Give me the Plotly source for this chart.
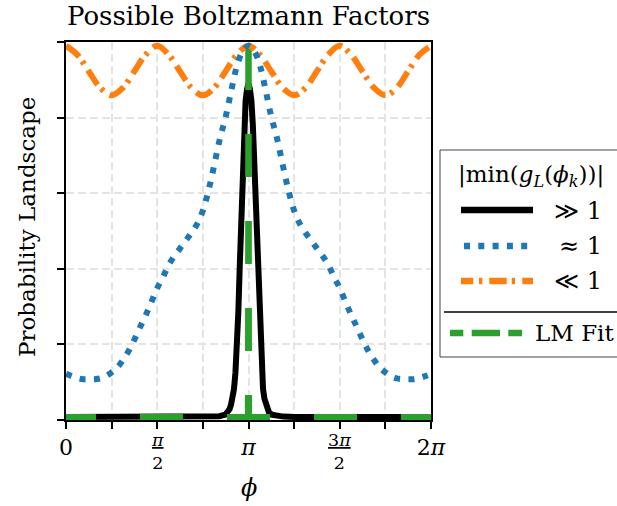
import plotly.graph_objects as go

# ---------------- data ----------------
phi_blue = [0.0, 0.0982, 0.1963, 0.2945, 0.3927, 0.4909, 0.5890, 0.6872, 0.7854, 0.8836,
            0.9817, 1.0799, 1.1781, 1.2763, 1.3744, 1.4726, 1.5708, 1.6690, 1.7671, 1.8653,
            1.9635, 2.0617, 2.1598, 2.2580, 2.3562, 2.4544, 2.5525, 2.6507, 2.7489, 2.8471,
            2.9452, 3.0434, 3.1416, 3.2398, 3.3379, 3.4361, 3.5343, 3.6325, 3.7306, 3.8288,
            3.9270, 4.0252, 4.1233, 4.2215, 4.3197, 4.4179, 4.5160, 4.6142, 4.7124, 4.8106,
            4.9087, 5.0069, 5.1051, 5.2033, 5.3014, 5.3996, 5.4978, 5.5960, 5.6941, 5.7923,
            5.8905, 5.9887, 6.0868, 6.1850, 6.2832]
blue_vals = [0.122, 0.116, 0.111, 0.108, 0.108, 0.108, 0.110, 0.116, 0.126, 0.139,
             0.159, 0.183, 0.213, 0.246, 0.278, 0.313, 0.349, 0.378, 0.410, 0.434,
             0.454, 0.475, 0.495, 0.519, 0.554, 0.608, 0.675, 0.745, 0.802, 0.873,
             0.938, 0.976, 0.990, 0.976, 0.938, 0.873, 0.802, 0.745, 0.675, 0.608,
             0.554, 0.519, 0.495, 0.475, 0.454, 0.434, 0.410, 0.378, 0.349, 0.313,
             0.278, 0.246, 0.213, 0.183, 0.159, 0.139, 0.126, 0.116, 0.110, 0.108,
             0.108, 0.108, 0.111, 0.116, 0.122]

phi_orange = [0.0, 0.1963, 0.3927, 0.5890, 0.7854, 0.9817, 1.1781, 1.3744, 1.5708, 1.7671,
              1.9635, 2.1598, 2.3562, 2.5525, 2.7489, 2.9452, 3.1416, 3.3379, 3.5343, 3.7306,
              3.9270, 4.1233, 4.3197, 4.5160, 4.7124, 4.9087, 5.1051, 5.3014, 5.4978, 5.6941,
              5.8905, 6.0868, 6.2832]
orange_vals = [0.990, 0.966, 0.922, 0.879, 0.859, 0.879, 0.923, 0.967, 0.990, 0.966,
               0.922, 0.879, 0.859, 0.879, 0.923, 0.967, 0.990, 0.966, 0.922, 0.879,
               0.859, 0.879, 0.923, 0.967, 0.990, 0.966, 0.922, 0.879, 0.859, 0.879,
               0.923, 0.967, 0.990]

phi_black = [0.0, 0.6416, 1.6416, 2.3416, 2.5416, 2.6416, 2.7416, 2.7916, 2.8166, 2.8416,
             2.8666, 2.8916, 2.9166, 2.9416, 2.9666, 2.9916, 3.0166, 3.0416, 3.0666, 3.0916,
             3.1166, 3.1416, 3.1666, 3.1916, 3.2166, 3.2416, 3.2666, 3.2916, 3.3166, 3.3416,
             3.3666, 3.3916, 3.4166, 3.4416, 3.4666, 3.4916, 3.5416, 3.6416, 3.7416, 3.9416,
             4.6416, 5.6416, 6.2832]
black_vals = [0.008, 0.008, 0.008, 0.008, 0.009, 0.010, 0.014, 0.021, 0.029, 0.041,
              0.056, 0.082, 0.125, 0.195, 0.285, 0.410, 0.540, 0.680, 0.780, 0.845,
              0.875, 0.890, 0.875, 0.845, 0.780, 0.680, 0.540, 0.410, 0.285, 0.195,
              0.125, 0.082, 0.056, 0.041, 0.029, 0.021, 0.014, 0.010, 0.009, 0.008,
              0.008, 0.008, 0.008]

# LM fit: left half and right half, both starting from the peak at pi
green_phi_left = [3.1416, 3.1316, 2.3562, 1.5708, 0.7854, 0.0]
green_vals_left = [0.987, 0.008, 0.008, 0.008, 0.008, 0.008]
green_phi_right = [3.1416, 3.1516, 3.9270, 4.7124, 5.4978, 6.2832]
green_vals_right = [0.987, 0.008, 0.008, 0.008, 0.008, 0.008]

x_tick_vals = [0.0, 3.1416, 6.2832]
x_tick_text = ["0", "<i>π</i>", "2<i>π</i>"]
x_minor_step = 0.7854
frac_tick_vals = [1.5708, 4.7124]
frac_tick_text = ["<u><i>π</i></u><br>2", "<u>3<i>π</i></u><br>2"]
y_tick_vals = [0.0, 0.2, 0.4, 0.6, 0.8, 1.0]

legend_labels = ["≫ 1", "≈ 1", "≪ 1"]
legend_title = "|min(<i>g</i><sub><i>L</i></sub>(<i>ϕ</i><sub><i>k</i></sub>))|"
fit_label = "LM Fit"

# ---------------- styling ----------------
FONT = "DejaVu Serif"
W, H = 617, 506
L, R, T, B = 66, 431, 42, 420   # plot area in pixels


def px(x):
    return (x - L) / (R - L)


def py(y):
    return (B - y) / (B - T)


BLACK = "#000000"
BLUE = "#1f77b4"
ORANGE = "#ff7f0e"
GREEN = "#2ca02c"
LW = 6

fig = go.Figure()
fig.add_trace(go.Scatter(x=phi_black, y=black_vals, mode="lines",
                         line=dict(color=BLACK, width=LW), showlegend=False))
fig.add_trace(go.Scatter(x=green_phi_left, y=green_vals_left, mode="lines",
                         line=dict(color=GREEN, width=LW, dash="43px,44px"), showlegend=False))
fig.add_trace(go.Scatter(x=green_phi_right, y=green_vals_right, mode="lines",
                         line=dict(color=GREEN, width=LW, dash="43px,44px"), showlegend=False))
fig.add_trace(go.Scatter(x=phi_orange, y=orange_vals, mode="lines",
                         line=dict(color=ORANGE, width=LW, shape="spline",
                                   dash="17.3px,5.4px,3.3px,7.2px"), showlegend=False))
fig.add_trace(go.Scatter(x=phi_blue, y=blue_vals, mode="lines",
                         line=dict(color=BLUE, width=LW, shape="spline", dash="6px,8.4px"),
                         showlegend=False))

GRIDC = "#e4e4e4"
axis_common = dict(showline=True, linecolor="black", linewidth=1.5, mirror=True,
                   ticks="outside", ticklen=7, tickwidth=1.5, tickcolor="black",
                   zeroline=False, showgrid=True, gridcolor=GRIDC, gridwidth=1.5,
                   griddash="8px,4px")

fig.update_xaxes(range=[0, 6.2832], tickmode="array", tickvals=x_tick_vals,
                 ticktext=x_tick_text, tickfont=dict(family=FONT, size=22, color="black"),
                 minor=dict(tick0=0, dtick=x_minor_step, ticks="outside", ticklen=7,
                            tickwidth=1.5, tickcolor="black", showgrid=True,
                            gridcolor=GRIDC, gridwidth=1.5, griddash="8px,4px"),
                 **axis_common)
fig.update_yaxes(range=[0, 1], tickmode="array", tickvals=y_tick_vals,
                 showticklabels=False, **axis_common)

annotations = []
# fraction tick labels
for v, t in zip(frac_tick_vals, frac_tick_text):
    annotations.append(dict(x=v, xref="x", y=py(451), yref="paper", text=t,
                            showarrow=False, xanchor="center", yanchor="middle",
                            font=dict(family=FONT, size=17.5, color="black")))
# axis labels
annotations.append(dict(x=0.5, xref="paper", y=py(488), yref="paper", text="<i>ϕ</i>",
                        showarrow=False, xanchor="center", yanchor="middle",
                        font=dict(family=FONT, size=24, color="black")))
annotations.append(dict(x=px(27), xref="paper", y=py(227), yref="paper",
                        text="Probability Landscape", textangle=-90, showarrow=False,
                        xanchor="center", yanchor="middle",
                        font=dict(family=FONT, size=23, color="black")))
# legend texts
annotations.append(dict(x=px(531), xref="paper", y=py(176), yref="paper", text=legend_title,
                        showarrow=False, xanchor="center", yanchor="middle",
                        font=dict(family=FONT, size=23, color="black")))
for yy, lab in zip([211, 246, 281], legend_labels):
    annotations.append(dict(x=px(604), xref="paper", y=py(yy), yref="paper", text=lab,
                            showarrow=False, xanchor="right", yanchor="middle",
                            font=dict(family=FONT, size=24, color="black")))
annotations.append(dict(x=px(533), xref="paper", y=py(333), yref="paper", text=fit_label,
                        showarrow=False, xanchor="left", yanchor="middle",
                        font=dict(family=FONT, size=23, color="black")))

shapes = []
# legend frame
shapes.append(dict(type="rect", xref="paper", yref="paper", x0=px(440), x1=px(660),
                   y0=py(357), y1=py(150), line=dict(color="#444444", width=1),
                   fillcolor="rgba(0,0,0,0)", layer="above"))
# separator
shapes.append(dict(type="line", xref="paper", yref="paper", x0=px(444), x1=px(660),
                   y0=py(312), y1=py(312), line=dict(color="black", width=1.4)))
# legend handles
shapes.append(dict(type="line", xref="paper", yref="paper", x0=px(461), x1=px(533),
                   y0=py(210), y1=py(210), line=dict(color=BLACK, width=6.5)))
shapes.append(dict(type="line", xref="paper", yref="paper", x0=px(464), x1=px(528),
                   y0=py(246), y1=py(246), line=dict(color=BLUE, width=6.5, dash="6px,8.3px")))
shapes.append(dict(type="line", xref="paper", yref="paper", x0=px(461), x1=px(533),
                   y0=py(281), y1=py(281),
                   line=dict(color=ORANGE, width=6.5,
                             dash="12.3px,5.7px,3.3px,7px,17.4px,5px,3.3px,7.3px,11px,30px")))
shapes.append(dict(type="line", xref="paper", yref="paper", x0=px(450), x1=px(522),
                   y0=py(333), y1=py(333),
                   line=dict(color=GREEN, width=6.5,
                             dash="13.3px,8.4px,28.3px,8.3px,13.7px,30px")))

fig.update_layout(
    width=W, height=H,
    margin=dict(l=L, r=W - R, t=T, b=H - B),
    paper_bgcolor="white", plot_bgcolor="white",
    title=dict(text="Possible Boltzmann Factors", x=0.5, xref="paper", xanchor="center",
               y=1 - 16 / H, yref="container", yanchor="middle",
               font=dict(family=FONT, size=26, color="black")),
    annotations=annotations, shapes=shapes, showlegend=False,
)

fig.write_html("out.html")
